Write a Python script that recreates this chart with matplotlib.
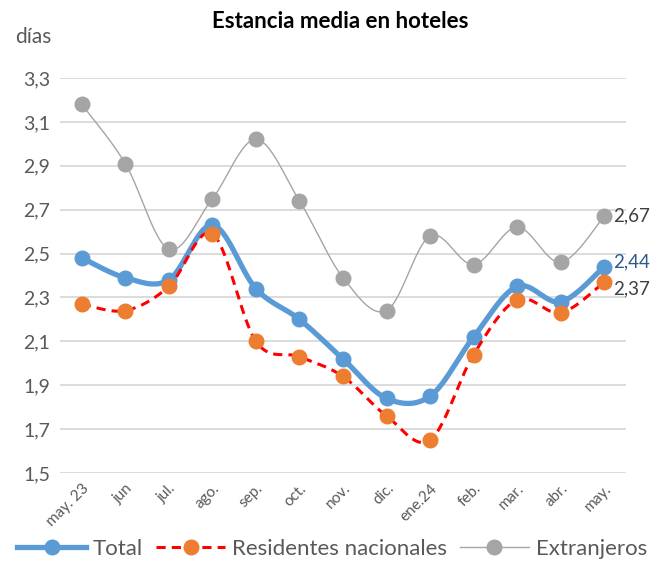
import numpy as np
import matplotlib
matplotlib.use("Agg")
import matplotlib.pyplot as plt
from matplotlib.lines import Line2D

plt.rcParams['font.family'] = ['Lato', 'DejaVu Sans']

meses = ["may. 23", "jun", "jul.", "ago.", "sep.", "oct.", "nov.",
         "dic.", "ene.24", "feb.", "mar.", "abr.", "may."]
total = [2.48, 2.39, 2.38, 2.63, 2.34, 2.20, 2.02, 1.84, 1.85, 2.12, 2.35, 2.28, 2.44]
residentes = [2.27, 2.24, 2.35, 2.59, 2.10, 2.03, 1.94, 1.76, 1.65, 2.04, 2.29, 2.23, 2.37]
extranjeros = [3.18, 2.91, 2.52, 2.75, 3.02, 2.74, 2.39, 2.24, 2.58, 2.45, 2.62, 2.46, 2.67]


def smooth(y, n=30):
    # excel-like smoothed line (bezier with catmull-rom control points)
    x = np.arange(len(y), dtype=float)
    y = np.asarray(y, dtype=float)
    pts = np.column_stack([x, y])
    p = np.vstack([pts[0], pts, pts[-1]])
    out = []
    t = np.linspace(0, 1, n)[:, None]
    for i in range(len(pts) - 1):
        p0, p3 = p[i + 1], p[i + 2]
        c1 = p0 + (p[i + 2] - p[i]) / 6
        c2 = p3 - (p[i + 3] - p[i + 1]) / 6
        seg = ((1 - t) ** 3) * p0 + 3 * ((1 - t) ** 2) * t * c1 + 3 * (1 - t) * t ** 2 * c2 + t ** 3 * p3
        out.append(seg if i == 0 else seg[1:])
    out = np.vstack(out)
    return out[:, 0], out[:, 1]


fig = plt.figure(figsize=(6.64, 5.62), dpi=100)
ax = fig.add_axes([60 / 664, 1 - 473 / 562, 566 / 664, 395 / 562])

x = np.arange(len(meses))
c_tot, c_res, c_ext = "#5B9BD5", "#ED7D31", "#A5A5A5"

sx, sy = smooth(extranjeros)
ax.plot(sx, sy, color=c_ext, lw=1.0, zorder=2, clip_on=False)
ax.plot(x, extranjeros, "o", color=c_ext, ms=10.5, zorder=3, clip_on=False)

sx, sy = smooth(total)
ax.plot(sx, sy, color=c_tot, lw=3.8, zorder=4, clip_on=False, solid_capstyle="round")
ax.plot(x, total, "o", color=c_tot, ms=10.5, zorder=5, clip_on=False)

sx, sy = smooth(residentes)
ax.plot(sx, sy, color="#FF0000", lw=2.2, ls=(0, (3, 2)), zorder=6, clip_on=False)
ax.plot(x, residentes, "o", color=c_res, ms=10.5, zorder=7, clip_on=False)

ax.set_xlim(-0.5, len(meses) - 0.5)
ax.set_ylim(1.5, 3.3)
ax.set_yticks(np.arange(1.5, 3.31, 0.2))
ax.set_yticklabels([f"{v:.1f}".replace(".", ",") for v in np.arange(1.5, 3.31, 0.2)],
                   fontsize=14, color="#595959")
ax.set_xticks(x)
ax.set_xticklabels(meses, rotation=45, ha="right", rotation_mode="anchor",
                   fontsize=11, color="#595959")
ax.tick_params(length=0, pad=7)
ax.tick_params(axis="x", pad=6)
ax.grid(axis="y", color="#D9D9D9", lw=1.3)
ax.set_axisbelow(True)
for s in ax.spines.values():
    s.set_visible(False)

# last point labels
ax.text(x[-1] + 0.2, extranjeros[-1], "2,67", fontsize=13.5, color="#404040", va="center")
ax.text(x[-1] + 0.2, total[-1] + 0.02, "2,44", fontsize=13.5, color="#2E5A8A", va="center")
ax.text(x[-1] + 0.2, residentes[-1] - 0.03, "2,37", fontsize=13.5, color="#404040", va="center")

fig.text(340 / 664, 1 - 22 / 562, "Estancia media en hoteles", fontsize=16,
         fontweight="bold", ha="center", va="center")
fig.text(15 / 664, 1 - 37 / 562, "días", fontsize=15, color="#595959", va="center")

handles = [
    Line2D([], [], color=c_tot, lw=3.8, marker="o", ms=10.5),
    Line2D([], [], color="#FF0000", lw=2.2, ls=(0, (3, 2)), marker="o", ms=10.5,
           markerfacecolor=c_res, markeredgecolor=c_res),
    Line2D([], [], color=c_ext, lw=1.0, marker="o", ms=10.5),
]
fig.legend(handles, ["Total", "Residentes nacionales", "Extranjeros"],
           loc="center", bbox_to_anchor=(0.5, 1 - 549 / 562), ncol=3, frameon=False,
           fontsize=16, handlelength=3.1, columnspacing=0.6, handletextpad=0.3,
           labelcolor="#595959")

fig.savefig("out.png", dpi=100)
